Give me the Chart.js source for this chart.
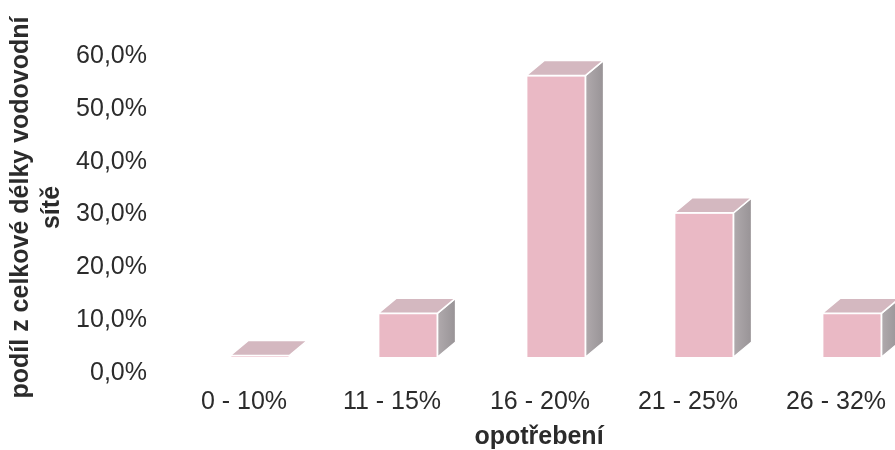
<!DOCTYPE html>
<html>
<head>
<meta charset="utf-8">
<script src="https://cdn.jsdelivr.net/npm/chart.js@4/dist/chart.umd.min.js"></script>
<style>
  body { margin: 0; background: #fff; }
  #wrap { width: 895px; height: 450px; overflow: hidden; position: relative; }
  canvas { display: block; }
</style>
</head>
<body>
<div id="wrap"><canvas id="wearChart" width="940" height="450" style="width:940px;height:450px"></canvas></div>
<script>
const categories = ['0 - 10%', '11 - 15%', '16 - 20%', '21 - 25%', '26 - 32%'];
const shares = [0.3, 8.3, 53.3, 27.3, 8.3];
const yTicks = [0, 10, 20, 30, 40, 50, 60];
const xTitle = 'opotřebení';
const yTitle = ['podíl z celkové délky vodovodní', 'sítě'];

const textColor = '#2b2b2b';
const fontFamily = '"Liberation Sans", Arial, sans-serif';

// side and top faces of the 3D boxes, taken from the bar elements
const boxFaces = {
    id: 'boxFaces',
    afterDatasetsDraw(chart) {
        const ctx = chart.ctx;
        const dx = 18, dy = -15;
        chart.getDatasetMeta(0).data.forEach(bar => {
            const p = bar.getProps(['x', 'y', 'base', 'width'], true);
            const l = p.x - p.width / 2, r = p.x + p.width / 2;
            ctx.save();
            ctx.lineWidth = 1.5;
            ctx.strokeStyle = '#ffffff';
            // side
            const g = ctx.createLinearGradient(r, 0, r + dx, 0);
            g.addColorStop(0, '#b0aaad');
            g.addColorStop(1, '#989396');
            ctx.fillStyle = g;
            ctx.beginPath();
            ctx.moveTo(r, p.y);
            ctx.lineTo(r + dx, p.y + dy);
            ctx.lineTo(r + dx, p.base + dy);
            ctx.lineTo(r, p.base);
            ctx.closePath();
            ctx.fill();
            ctx.stroke();
            // top
            ctx.fillStyle = '#d4b8c0';
            ctx.beginPath();
            ctx.moveTo(l, p.y);
            ctx.lineTo(l + dx, p.y + dy);
            ctx.lineTo(r + dx, p.y + dy);
            ctx.lineTo(r, p.y);
            ctx.closePath();
            ctx.fill();
            ctx.stroke();
            ctx.restore();
        });
    }
};

// axis titles, placed like the 3D floor of the original
const axisTitles = {
    id: 'axisTitles',
    afterDraw(chart) {
        const ctx = chart.ctx;
        const area = chart.chartArea;
        ctx.save();
        ctx.fillStyle = textColor;
        ctx.font = 'bold 25px ' + fontFamily;
        ctx.textAlign = 'center';
        ctx.textBaseline = 'middle';
        ctx.fillText(xTitle, (area.left + area.right) / 2 - 17, chart.height - 13);
        ctx.translate(21, (area.top + area.bottom) / 2 + 9);
        ctx.rotate(-Math.PI / 2);
        yTitle.forEach((line, i) => ctx.fillText(line, 0, i * 31));
        ctx.restore();
    }
};

new Chart(document.getElementById('wearChart'), {
    type: 'bar',
    data: {
        labels: categories,
        datasets: [{
            data: shares,
            backgroundColor: '#eab9c5',
            borderColor: '#ffffff',
            borderWidth: 1,
            barPercentage: 0.4,
            categoryPercentage: 1.0
        }]
    },
    options: {
        responsive: false,
        animation: false,
        devicePixelRatio: 1,
        layout: { padding: { top: 0, right: 14, bottom: 0, left: 0 } },
        plugins: {
            legend: { display: false },
            tooltip: { enabled: false }
        },
        scales: {
            x: {
                grid: { display: false, drawTicks: false },
                border: { display: false },
                ticks: {
                    color: textColor,
                    font: { family: fontFamily, size: 25, lineHeight: 1 },
                    padding: 33,
                    labelOffset: -16,
                    maxRotation: 0
                },
                afterFit(scale) { scale.height = 93; }
            },
            y: {
                min: 0,
                max: 60,
                grid: { display: false, drawTicks: false },
                border: { display: false },
                afterBuildTicks(scale) { scale.ticks = yTicks.map(v => ({ value: v })); },
                ticks: {
                    color: textColor,
                    font: { family: fontFamily, size: 25, lineHeight: 1 },
                    padding: 39,
                    labelOffset: 16,
                    callback: v => v.toFixed(1).replace('.', ',') + '%'
                },
                afterFit(scale) {
                    scale.width = 186;
                    scale.paddingTop = 40;
                    scale.paddingBottom = 0;
                }
            }
        }
    },
    plugins: [boxFaces, axisTitles]
});
</script>
</body>
</html>
